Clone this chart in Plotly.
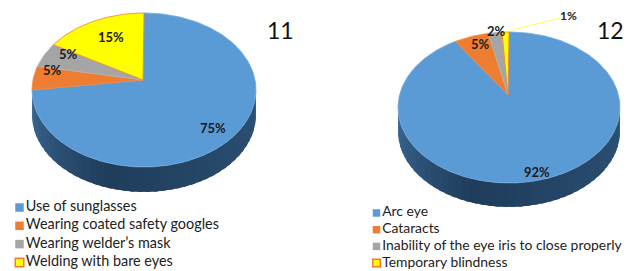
import math
import plotly.graph_objects as go

# ---------------- data ----------------
labels_11 = ["Use of sunglasses", "Wearing coated safety googles",
             "Wearing welder\u2019s mask", "Welding with bare eyes"]
values_11 = [75, 5, 5, 15]
labels_12 = ["Arc eye", "Cataracts",
             "Inability of the eye iris to close properly", "Temporary blindness"]
values_12 = [92, 5, 2, 1]
titles = ["11", "12"]

# ---------------- style ----------------
colors = ["#5B9BD5", "#ED7D31", "#A5A5A5", "#FFFF00"]
edge_colors = ["#6FA8DC", "#F08A45", "#B5B5B5", "#ED7D31"]
FONT = "Lato"
LEG_FONT = "Lato"
W, H = 632, 271
OFF = 8  # page body margin of the html page

pies = [
    dict(labels=labels_11, values=values_11, title=titles[0],
         cx=144, cy=90, rx=112, ry=77, ax=143, ay=80, depth=25,
         lab_f=[0.88, 0.82, 0.75, 0.62], outside=[None, None, None, None],
         title_xy=(280, 30),
         leg_x=19.5, leg_y0=207.5, leg_dy=18.3, leg_size=14.4, mk=8.5),
    dict(labels=labels_12, values=values_12, title=titles[1],
         cx=509, cy=107.5, rx=111, ry=75.5, ax=508, ay=95, depth=24,
         lab_f=[1.05, 0.72, 0.85, None],
         outside=[None, None, None, (568, 15, 510, 30.5, 557, 19)],
         title_xy=(610, 30),
         leg_x=376.5, leg_y0=213, leg_dy=16.7, leg_size=13.9, mk=7.5),
]


def ell(p, phi_deg, dy=0.0):
    t = math.radians(phi_deg)
    return p["cx"] + p["rx"] * math.sin(t), p["cy"] - p["ry"] * math.cos(t) + dy


def mix(c1, c2, t):
    a = [int(c1[i:i + 2], 16) for i in (1, 3, 5)]
    b = [int(c2[i:i + 2], 16) for i in (1, 3, 5)]
    return "#" + "".join(f"{round(a[k] + (b[k] - a[k]) * t):02x}" for k in range(3))


fig = go.Figure()
annotations = []

for p in pies:
    total = sum(p["values"])
    bounds = [0.0]
    for v in p["values"]:
        bounds.append(bounds[-1] + 360.0 * v / total)

    # side band (front half, phi 90..270) -- small overlapping segments for shading
    nseg = 45
    for s in range(nseg):
        a0 = 90 + 180 * s / nseg
        a1 = 90 + 180 * (s + 1) / nseg
        mid = (a0 + a1) / 2
        k = next(i for i in range(len(p["values"])) if bounds[i] <= mid <= bounds[i + 1])
        base = colors[k]
        dark = "#0E2238"
        if mid >= 200:
            t = (mid - 200) / 70.0
            col = mix(mix(base, dark, 0.78), mix(base, dark, 0.42), t)
        else:
            t = (200 - mid) / 110.0
            col = mix(mix(base, dark, 0.78), mix(base, dark, 0.6), t)
        b0 = max(90, a0 - 1.2)
        b1 = min(270, a1 + 1.2)
        xs, ys = [], []
        steps = 4
        for j in range(steps + 1):
            x, y = ell(p, b0 + (b1 - b0) * j / steps)
            xs.append(x); ys.append(y)
        for j in range(steps, -1, -1):
            x, y = ell(p, b0 + (b1 - b0) * j / steps, p["depth"])
            xs.append(x); ys.append(y)
        fig.add_trace(go.Scatter(x=xs, y=ys, mode="lines", fill="toself",
                                 fillcolor=col, line=dict(width=0),
                                 hoverinfo="skip", showlegend=False))

    # top face wedges
    for i, v in enumerate(p["values"]):
        a0, a1 = bounds[i], bounds[i + 1]
        n = max(3, int((a1 - a0) / 1.0))
        xs = [p["ax"]]
        ys = [p["ay"]]
        for j in range(n + 1):
            x, y = ell(p, a0 + (a1 - a0) * j / n)
            xs.append(x); ys.append(y)
        xs.append(p["ax"]); ys.append(p["ay"])
        fig.add_trace(go.Scatter(x=xs, y=ys, mode="lines", fill="toself",
                                 fillcolor=colors[i],
                                 line=dict(width=0.8, color=edge_colors[i]),
                                 hoverinfo="skip", showlegend=False))

    # data labels
    for i, v in enumerate(p["values"]):
        mid = (bounds[i] + bounds[i + 1]) / 2
        txt = f"<b>{v}%</b>"
        if p["outside"][i] is not None:
            tx, ty, lx0, ly0, lx1, ly1 = p["outside"][i]
            fig.add_trace(go.Scatter(x=[lx0, lx1, tx - 8], y=[ly0, ly1, ly1 - 1],
                                     mode="lines", line=dict(color="#FFFF66", width=1.2),
                                     hoverinfo="skip", showlegend=False))
            annotations.append(dict(x=tx, y=ty, text=txt, showarrow=False,
                                    xanchor="center", yanchor="middle",
                                    font=dict(family=FONT, size=12, color="#222222"),
                                    xref="x", yref="y"))
            continue
        f = p["lab_f"][i]
        t = math.radians(mid)
        x = p["ax"] + f * p["rx"] * math.sin(t)
        y = p["ay"] - f * p["ry"] * math.cos(t)
        annotations.append(dict(x=x, y=y, text=txt, showarrow=False,
                                xanchor="center", yanchor="middle",
                                font=dict(family=FONT, size=13, color="#1a1a1a"),
                                xref="x", yref="y"))

    # chart number
    annotations.append(dict(x=p["title_xy"][0], y=p["title_xy"][1], text=p["title"],
                            showarrow=False, xanchor="center", yanchor="middle",
                            font=dict(family=FONT, size=23, color="#111111"),
                            xref="x", yref="y"))

    # legend
    ly = [p["leg_y0"] + k * p["leg_dy"] for k in range(len(p["labels"]))]
    fig.add_trace(go.Scatter(
        x=[p["leg_x"]] * len(p["labels"]), y=ly, mode="markers+text",
        marker=dict(symbol="square", size=p["mk"], color=colors,
                    line=dict(width=[0, 0, 0, 1.5],
                              color=["#5B9BD5", "#ED7D31", "#A5A5A5", "#ED7D31"])),
        text=p["labels"], textposition="middle right",
        textfont=dict(family=LEG_FONT, size=p["leg_size"], color="#222222"),
        hoverinfo="skip", showlegend=False, cliponaxis=False))

fig.update_layout(
    width=W - OFF, height=H - OFF, margin=dict(l=0, r=0, t=0, b=0),
    paper_bgcolor="white", plot_bgcolor="white",
    xaxis=dict(range=[OFF, W], visible=False, fixedrange=True),
    yaxis=dict(range=[H, OFF], visible=False, fixedrange=True),
    annotations=annotations, showlegend=False,
)

fig.write_html("out.html")
